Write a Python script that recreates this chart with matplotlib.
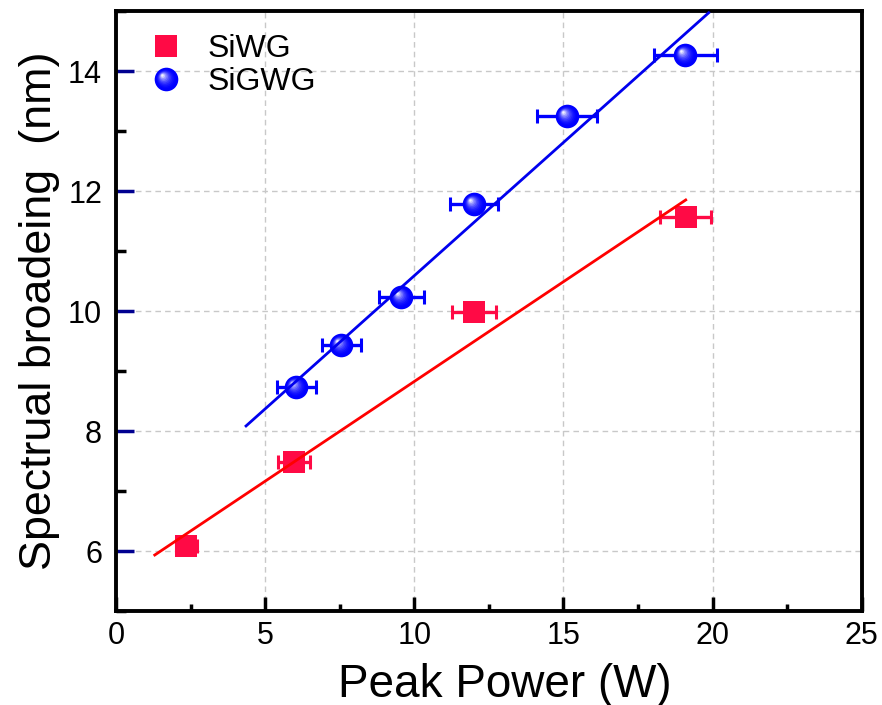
import numpy as np
import matplotlib
matplotlib.use("Agg")
import matplotlib.pyplot as plt
from matplotlib.path import Path
from matplotlib.markers import MarkerStyle
from matplotlib.lines import Line2D
from matplotlib.ticker import MultipleLocator
from matplotlib.legend_handler import HandlerTuple

# ---------------- data ----------------
siwg_power = [2.35, 5.97, 12.0, 19.1]
siwg_broad = [6.08, 7.48, 9.98, 11.57]
siwg_xerr = [0.35, 0.55, 0.75, 0.85]

sigwg_power = [6.04, 7.55, 9.56, 12.0, 15.13, 19.09]
sigwg_broad = [8.73, 9.43, 10.23, 11.78, 13.25, 14.27]
sigwg_xerr = [0.65, 0.65, 0.75, 0.8, 1.0, 1.05]

siwg_fit_range = [1.3, 19.1]
sigwg_fit_range = [4.36, 19.87]

series_labels = ["SiWG", "SiGWG"]
x_label = "Peak Power (W)"
y_label = "Spectrual broadeing  (nm)"

RED = "#ff0a45"
BLUE = "#0000ff"

plt.rcParams['font.family'] = ['Liberation Sans', 'DejaVu Sans']

fig = plt.figure(figsize=(8.82, 7.05), dpi=100)
ax = fig.add_axes([0.1315, 0.1333, 0.977 - 0.1315, 0.9844 - 0.1333])

ax.set_xlim(0, 25)
ax.set_ylim(5, 15)

ax.grid(True, which='major', color='#c8c8c8', linestyle=(0, (4, 3)), linewidth=1.0)
ax.set_axisbelow(True)


# sphere marker layers (custom paths, anchored so scale is fixed)
def sphere_marker(cx, cy, r):
    circ = Path.circle((cx, cy), r)
    anchor = Path([[1, 1], [-1, -1]], [Path.MOVETO, Path.MOVETO])
    return MarkerStyle(Path.make_compound_path(circ, anchor))


layer_t = np.linspace(0.15, 1.0, 9)
sphere_layers = []
for t in layer_t:
    r = 0.92 - 0.82 * t
    c = 0.34 * t
    base = np.array([0.0, 0.0, 1.0])
    col = base + (np.array([1.0, 1.0, 1.0]) - base) * (t ** 2.0) * 0.95
    sphere_layers.append((sphere_marker(-c, c, r), tuple(col)))

SPHERE_MS = 17

# error bars
ax.errorbar(siwg_power, siwg_broad, xerr=siwg_xerr, fmt='none', ecolor=RED,
            elinewidth=2.4, capsize=5, capthick=2.2, zorder=3)
ax.errorbar(sigwg_power, sigwg_broad, xerr=sigwg_xerr, fmt='none', ecolor=BLUE,
            elinewidth=2.4, capsize=5, capthick=2.2, zorder=3)

# markers
ax.plot(siwg_power, siwg_broad, linestyle='none', marker='s', markersize=16,
        color=RED, markeredgewidth=0, zorder=4)
ax.plot(sigwg_power, sigwg_broad, linestyle='none', marker='o', markersize=SPHERE_MS,
        color=BLUE, markeredgewidth=0, zorder=4)
for i, (m, col) in enumerate(sphere_layers):
    ax.plot(sigwg_power, sigwg_broad, linestyle='none', marker=m, markersize=SPHERE_MS,
            color=col, markeredgewidth=0, zorder=4.01 + i * 0.001)

# linear fits
p_r = np.polyfit(siwg_power, siwg_broad, 1)
xr = np.array(siwg_fit_range)
ax.plot(xr, np.polyval(p_r, xr), color='#ff0000', linewidth=2.0, zorder=5)
p_b = np.polyfit(sigwg_power, sigwg_broad, 1)
xb = np.array(sigwg_fit_range)
ax.plot(xb, np.polyval(p_b, xb), color='#0000ee', linewidth=2.0, zorder=5)

# legend
h_red = Line2D([], [], linestyle='none', marker='s', markersize=16, color=RED,
               markeredgewidth=0)
h_blue = [Line2D([], [], linestyle='none', marker='o', markersize=SPHERE_MS, color=BLUE,
                 markeredgewidth=0)]
for m, col in sphere_layers:
    h_blue.append(Line2D([], [], linestyle='none', marker=m, markersize=SPHERE_MS,
                         color=col, markeredgewidth=0))
leg = ax.legend([h_red, tuple(h_blue)], series_labels, loc='upper left',
                bbox_to_anchor=(0.005, 1.01), frameon=False, fontsize=23,
                handler_map={tuple: HandlerTuple(ndivide=1, pad=0)},
                handlelength=1.1, handletextpad=0.75, labelspacing=0.1)

# ticks
ax.xaxis.set_major_locator(MultipleLocator(5))
ax.xaxis.set_minor_locator(MultipleLocator(2.5))
ax.set_yticks([6, 8, 10, 12, 14])
ax.yaxis.set_minor_locator(MultipleLocator(1))

ax.tick_params(axis='x', which='major', direction='in', length=10, width=2.5,
               labelsize=22, pad=7, color='black', top=False)
ax.tick_params(axis='x', which='minor', direction='in', length=5, width=2.5,
               color='black', top=False)
ax.tick_params(axis='y', which='major', direction='in', length=13, width=2.5,
               labelsize=22, pad=10, color='#000090', right=False)
ax.tick_params(axis='y', which='minor', direction='in', length=7, width=2.5,
               color='black', right=False)

for s in ax.spines.values():
    s.set_linewidth(2.8)
    s.set_color('black')

ax.set_xlabel(x_label, fontsize=33, labelpad=0)
ax.xaxis.set_label_coords(0.521, -0.086, transform=ax.transAxes)
ax.xaxis.label.set_va('top')
ax.set_ylabel(y_label, fontsize=32.3, labelpad=6)

fig.savefig("out.png", dpi=100)
